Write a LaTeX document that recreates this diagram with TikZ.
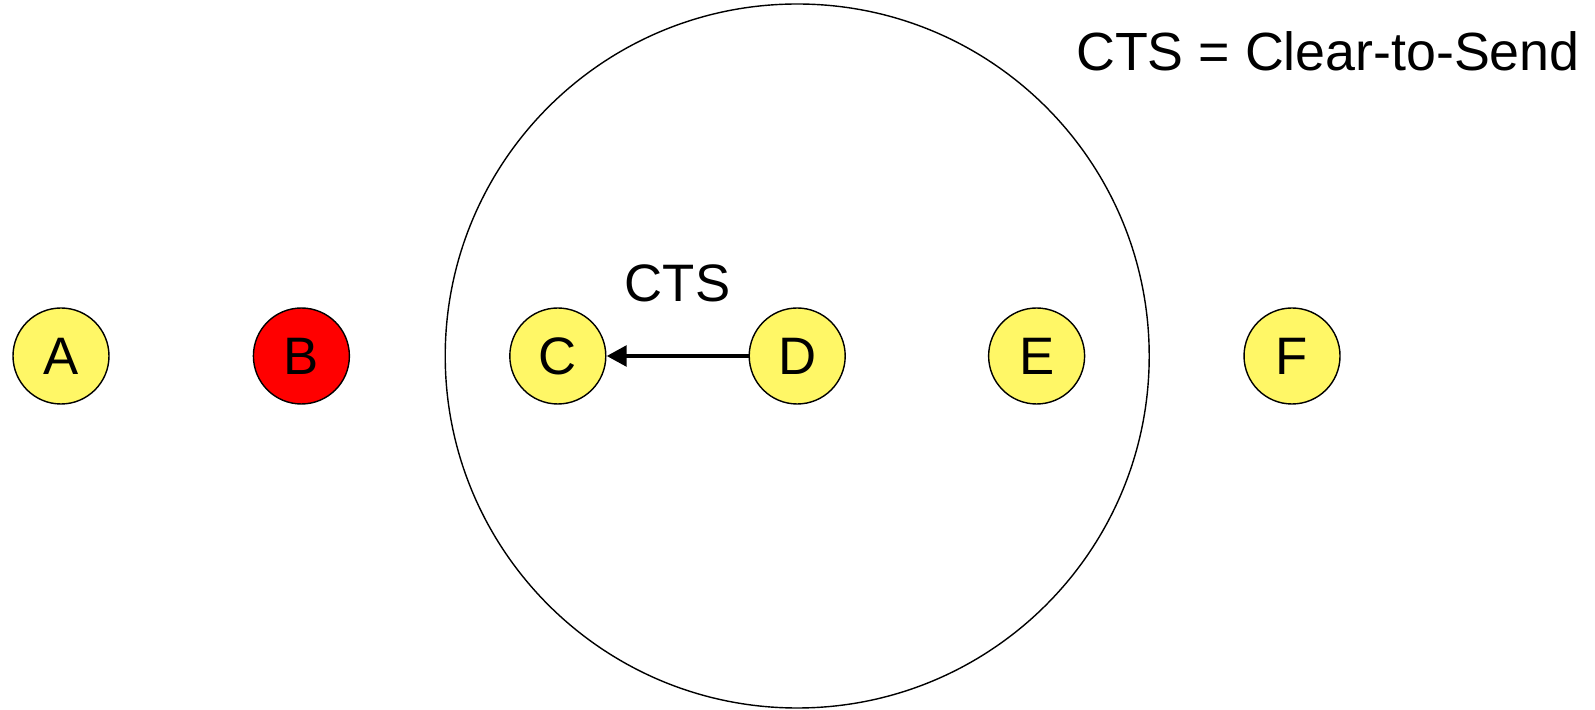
\documentclass[tikz,border=0pt]{standalone}
\usepackage{fontspec}
\setmainfont{Liberation Sans}
\usetikzlibrary{arrows.meta,positioning}

\begin{document}
\begin{tikzpicture}[node distance=1.42cm,
        station/.style={circle, draw, fill=yellow!60, minimum size=0.96cm, inner sep=0pt, font=\fontsize{15}{17}\selectfont},
        jammed/.style={station, fill=red}]

        \useasboundingbox (0,0) rectangle (15.95,7.1);

        \node[station] (a) at (0.61,3.54) {A};
        \node[jammed, right=1.43cm of a] (b) {B};
        \node[station, right=1.59cm of b] (c) {C};
        \node[station, right=of c] (d) {D};
        \node[station, right=of d] (e) {E};
        \node[station, right=1.58cm of e] (f) {F};

        % range of D
        \draw[thin] (d) circle (3.52cm);

        \draw[-{Triangle[length=0.2cm,width=0.2cm]}, line width=1.4pt] (d) -- (c)
            node[midway, above=0.4cm, font=\fontsize{15}{17}\selectfont] (cts) {CTS};

        \node[font=\fontsize{15.3}{18}\selectfont] (legend) at (13.28,6.59) {CTS = Clear-to-Send};
    \end{tikzpicture}
\end{document}
